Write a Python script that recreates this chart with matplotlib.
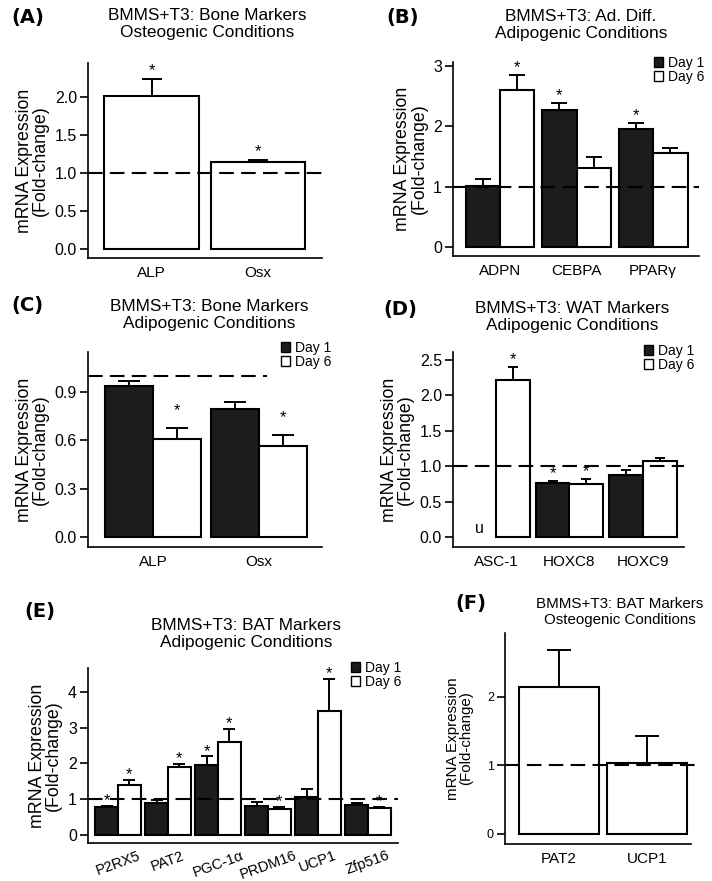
import numpy as np
import matplotlib
matplotlib.use('Agg')
import matplotlib.pyplot as plt
from matplotlib.patches import Patch

plt.rcParams['font.family'] = ['Liberation Sans', 'DejaVu Sans']

# ---- data (fold-change, mean and upper error) ----
A_genes = ['ALP', 'Osx']
A_mean = [2.01, 1.15]
A_err = [0.23, 0.02]
A_sig = [True, True]

B_genes = ['ADPN', 'CEBPA', 'PPARγ']
B_day1 = [1.01, 2.26, 1.95]
B_day1_err = [0.11, 0.12, 0.10]
B_day6 = [2.60, 1.30, 1.56]
B_day6_err = [0.25, 0.19, 0.08]
B_sig1 = [False, True, True]
B_sig6 = [True, False, False]

C_genes = ['ALP', 'Osx']
C_day1 = [0.94, 0.795]
C_day1_err = [0.03, 0.045]
C_day6 = [0.61, 0.567]
C_day6_err = [0.07, 0.068]
C_sig1 = [False, False]
C_sig6 = [True, True]

D_genes = ['ASC-1', 'HOXC8', 'HOXC9']
D_day1 = [np.nan, 0.76, 0.875]   # ASC-1 undetected at day 1
D_day1_err = [np.nan, 0.035, 0.07]
D_day6 = [2.21, 0.75, 1.07]
D_day6_err = [0.19, 0.07, 0.05]
D_sig1 = [False, True, False]
D_sig6 = [True, True, False]

E_genes = ['P2RX5', 'PAT2', 'PGC-1α', 'PRDM16', 'UCP1', 'Zfp516']
E_day1 = [0.79, 0.90, 1.96, 0.82, 1.06, 0.84]
E_day1_err = [0.03, 0.08, 0.24, 0.10, 0.22, 0.06]
E_day6 = [1.40, 1.90, 2.60, 0.73, 3.47, 0.75]
E_day6_err = [0.14, 0.09, 0.36, 0.05, 0.90, 0.03]
E_sig1 = [True, False, True, False, False, False]
E_sig6 = [True, True, True, True, True, True]

F_genes = ['PAT2', 'UCP1']
F_mean = [2.15, 1.04]
F_err = [0.54, 0.39]

W, H = 712, 881
DARK = '#1c1c1c'

fig = plt.figure(figsize=(W / 100, H / 100), dpi=100)


def px_axes(l, t, r, b):
    # axes box given in pixel coords of the figure (origin top-left)
    return fig.add_axes([l / W, 1 - b / H, (r - l) / W, (b - t) / H])


def style_axes(ax, ylim, xlim, yticks, ylabels, fs=11.5, ylab_fs=12.8, labelpad=4):
    ax.set_ylim(*ylim)
    ax.set_xlim(*xlim)
    for s in ['top', 'right']:
        ax.spines[s].set_visible(False)
    for s in ['left', 'bottom']:
        ax.spines[s].set_linewidth(1.2)
    ax.set_yticks(yticks)
    ax.set_yticklabels(ylabels, fontsize=fs)
    ax.tick_params(axis='y', length=5.5, width=1.2, pad=2.5)
    ax.tick_params(axis='x', length=0, pad=6, labelsize=11)
    ax.set_ylabel('mRNA Expression\n(Fold-change)', fontsize=ylab_fs,
                  labelpad=labelpad, linespacing=0.92)


def bars(ax, x, vals, errs, sig, color, width, capsize, star_off):
    ax.bar(x, vals, width=width, color=color, edgecolor='black', linewidth=1.5, zorder=2)
    ax.errorbar(x, vals, yerr=[np.zeros(len(vals)), errs], fmt='none', ecolor='black',
                elinewidth=1.4, capsize=capsize, capthick=1.4, zorder=1)
    for xi, v, e, s in zip(x, vals, errs, sig):
        if s:
            ax.annotate('*', xy=(xi, v + e), xytext=(0, star_off), textcoords='offset points',
                        ha='center', va='center', fontsize=12)


def dashed(ax, x0, x1, clip=True):
    ax.plot([x0, x1], [1, 1], color='black', lw=1.5, dashes=(7, 3.5), zorder=3, clip_on=clip)


def legend(ax, right_px, top_px, fs=10):
    handles = [Patch(facecolor=DARK, edgecolor='black', linewidth=1),
               Patch(facecolor='white', edgecolor='black', linewidth=1)]
    ax.legend(handles, ['Day 1', 'Day 6'], loc='upper right',
              bbox_to_anchor=(right_px / W, 1 - top_px / H), bbox_transform=fig.transFigure,
              frameon=False, fontsize=fs, handlelength=0.65, handleheight=0.75,
              handletextpad=0.3, labelspacing=0.0, borderpad=0, borderaxespad=0)


def titles(x, y, text, label, lx, ly, fs=12.4):
    fig.text(x / W, 1 - y / H, text, ha='center', va='center', fontsize=fs, linespacing=1.2)
    fig.text(lx / W, 1 - ly / H, label, ha='center', va='center', fontsize=14,
             fontweight='bold', family='DejaVu Sans')


# ---- (A) ----
ax = px_axes(88, 63, 322, 258)
x = np.arange(len(A_genes))
bars(ax, x, A_mean, A_err, A_sig, 'white', 0.89, 7, 6)
dashed(ax, -0.6, 1.6)
style_axes(ax, (-0.118, 2.447), (-0.596, 1.60), [0, 0.5, 1, 1.5, 2],
           ['0.0', '0.5', '1.0', '1.5', '2.0'])
ax.set_xticks(x)
ax.set_xticklabels(A_genes)
titles(207, 24, 'BMMS+T3: Bone Markers\nOsteogenic Conditions', '(A)', 28, 17)

# ---- (B) ----
ax = px_axes(453, 62, 699, 256)
x = np.arange(len(B_genes))
w = 0.45
bars(ax, x - w / 2, B_day1, B_day1_err, B_sig1, DARK, w, 5.5, 5.4)
bars(ax, x + w / 2, B_day6, B_day6_err, B_sig6, 'white', w, 5.5, 5.4)
dashed(ax, -0.614, 2.6)
style_axes(ax, (-0.149, 3.063), (-0.614, 2.6), [0, 1, 2, 3], ['0', '1', '2', '3'])
ax.set_xticks(x)
ax.set_xticklabels(B_genes)
legend(ax, 704, 56)
titles(581, 25, 'BMMS+T3: Ad. Diff.\nAdipogenic Conditions', '(B)', 403, 17)

# ---- (C) ----
ax = px_axes(88, 352, 322, 547)
x = np.arange(len(C_genes))
bars(ax, x - w / 2, C_day1, C_day1_err, C_sig1, DARK, w, 8, 12)
bars(ax, x + w / 2, C_day6, C_day6_err, C_sig6, 'white', w, 8, 12)
dashed(ax, -0.613, 1.075)
style_axes(ax, (-0.062, 1.149), (-0.613, 1.594), [0, 0.3, 0.6, 0.9],
           ['0.0', '0.3', '0.6', '0.9'])
ax.set_xticks(x)
ax.set_xticklabels(C_genes)
legend(ax, 331, 341)
titles(209, 315, 'BMMS+T3: Bone Markers\nAdipogenic Conditions', '(C)', 27, 306)

# ---- (D) ----
ax = px_axes(453, 352, 684, 547)
x = np.arange(len(D_genes))
w = 0.46
bars(ax, x - w / 2, D_day1, D_day1_err, D_sig1, DARK, w, 3.8, 5.4)
bars(ax, x + w / 2, D_day6, D_day6_err, D_sig6, 'white', w, 3.8, 5.4)
ax.text(x[0] - w / 2, 0.02, 'u', ha='center', va='bottom', fontsize=11.5)
dashed(ax, -0.585, 2.56)
style_axes(ax, (-0.141, 2.609), (-0.585, 2.56), [0, 0.5, 1, 1.5, 2, 2.5],
           ['0.0', '0.5', '1.0', '1.5', '2.0', '2.5'])
ax.set_xticks(x)
ax.set_xticklabels(D_genes)
legend(ax, 694, 344)
titles(572, 317, 'BMMS+T3: WAT Markers\nAdipogenic Conditions', '(D)', 400, 309)

# ---- (E) ----
ax = px_axes(88, 668, 398, 843)
x = np.arange(len(E_genes))
w = 0.455
bars(ax, x - w / 2, E_day1, E_day1_err, E_sig1, DARK, w, 4.5, 3.6)
bars(ax, x + w / 2, E_day6, E_day6_err, E_sig6, 'white', w, 4.5, 3.6)
dashed(ax, -0.6, 5.6)
style_axes(ax, (-0.223, 4.665), (-0.6, 5.6), [0, 1, 2, 3, 4], ['0', '1', '2', '3', '4'])
ax.set_xticks(x)
ax.set_xticklabels(E_genes, rotation=20, ha='center', fontsize=10.5)
ax.tick_params(axis='x', pad=4)
legend(ax, 401, 661)
titles(246, 634, 'BMMS+T3: BAT Markers\nAdipogenic Conditions', '(E)', 40, 612)

# ---- (F) ----
ax = px_axes(505, 633, 691, 844)
x = np.arange(len(F_genes))
bars(ax, x, F_mean, F_err, [False, False], 'white', 0.91, 8.3, 8)
dashed(ax, -0.614, 1.61, clip=False)
style_axes(ax, (-0.146, 2.934), (-0.614, 1.5), [0, 1, 2], ['0', '1', '2'],
           fs=9, ylab_fs=10.9, labelpad=10)
ax.set_xticks(x)
ax.set_xticklabels(F_genes, fontsize=11)
titles(620, 612, 'BMMS+T3: BAT Markers\nOsteogenic Conditions', '(F)', 471, 603, fs=10.9)

fig.savefig('out.png', dpi=100)
